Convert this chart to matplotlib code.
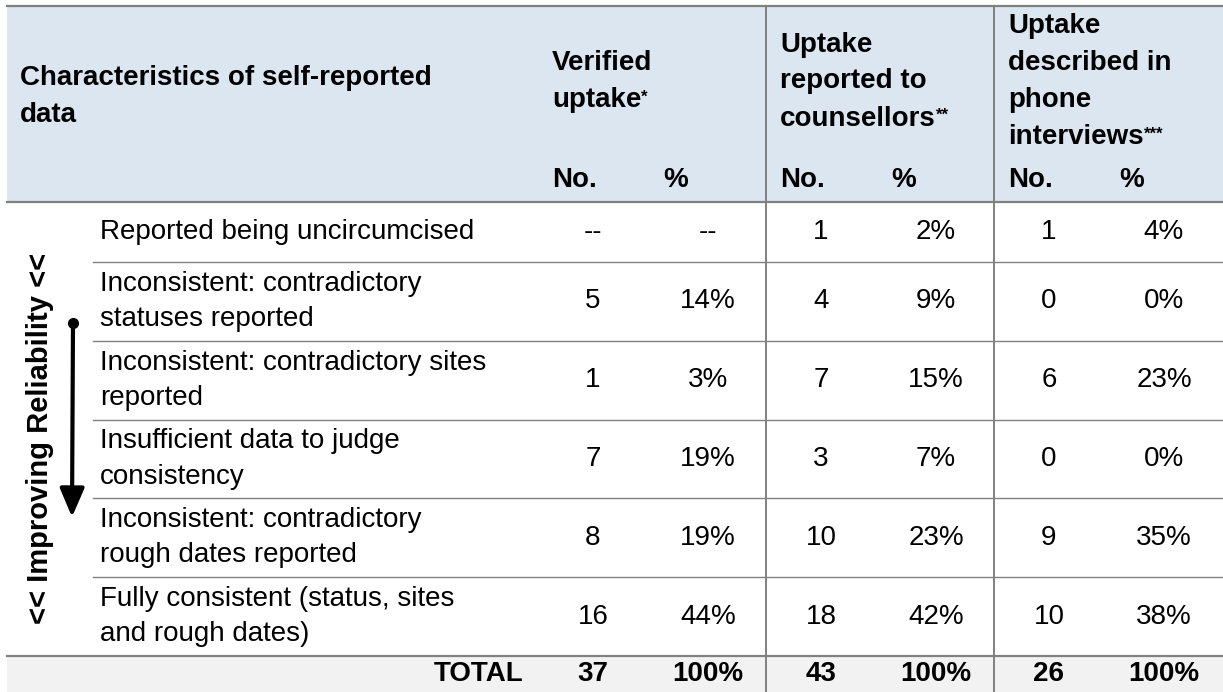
import matplotlib.pyplot as plt
from matplotlib.patches import Rectangle

plt.rcParams['font.family'] = ['Liberation Sans', 'DejaVu Sans']

# ---- table content ----
row_labels = [
    ["Reported being uncircumcised"],
    ["Inconsistent: contradictory", "statuses reported"],
    ["Inconsistent: contradictory sites", "reported"],
    ["Insufficient data to judge", "consistency"],
    ["Inconsistent: contradictory", "rough dates reported"],
    ["Fully consistent (status, sites", "and rough dates)"],
]
verified_no = [None, 5, 1, 7, 8, 16]
verified_pct = [None, 14, 3, 19, 19, 44]
counsellor_no = [1, 4, 7, 3, 10, 18]
counsellor_pct = [2, 9, 15, 7, 23, 42]
phone_no = [1, 0, 6, 0, 9, 10]
phone_pct = [4, 0, 23, 0, 35, 38]
total_no = [37, 43, 26]
total_pct = [100, 100, 100]

group_titles = [["Verified", "uptake"],
                ["Uptake", "reported to", "counsellors"],
                ["Uptake", "described in", "phone", "interviews"]]
group_marks = ["*", "**", "***"]
head_title = ["Characteristics of self-reported", "data"]
side_label = "<< Improving Reliability <<"

# ---- layout (pixels) ----
W, H = 1223, 692
LEFT = 7
TOP = 6
HEAD_BOT = 202
ROW1_BOT = 262
TOTAL_TOP = 656
group_x = [538, 766, 994]
FS = 20
GRID = '#808080'

row_edges = [HEAD_BOT, ROW1_BOT] + [ROW1_BOT + (TOTAL_TOP - ROW1_BOT) * k / 5 for k in range(1, 6)]

fig = plt.figure(figsize=(W / 100, H / 100), dpi=100)
ax = fig.add_axes([0, 0, 1, 1])
ax.set_xlim(0, W)
ax.set_ylim(H, 0)
ax.axis('off')

# backgrounds
ax.add_patch(Rectangle((LEFT, TOP), W - LEFT, HEAD_BOT - TOP, color='#DCE6F1', lw=0))
ax.add_patch(Rectangle((LEFT, TOTAL_TOP), W - LEFT, H - TOTAL_TOP, color='#F2F2F2', lw=0))

# rules
ax.plot([LEFT, W], [TOP, TOP], color=GRID, lw=1.6)
ax.plot([LEFT, W], [HEAD_BOT, HEAD_BOT], color=GRID, lw=1.6)
ax.plot([LEFT, W], [TOTAL_TOP, TOTAL_TOP], color=GRID, lw=1.6)
for y in row_edges[1:-1]:
    ax.plot([93, W], [y, y], color=GRID, lw=1.0)
for gx in group_x[1:]:
    ax.plot([gx, gx], [TOP, H], color=GRID, lw=1.4)

# header text
for i, line in enumerate(head_title):
    ax.text(20, 78 + i * 37, line, fontsize=FS, fontweight='bold', va='center', ha='left')

for gx, lines, mark in zip(group_x, group_titles, group_marks):
    n = len(lines)
    for i, line in enumerate(lines):
        y = 81.5 + (i - (n - 1) / 2) * 37
        t = ax.text(gx + 14, y, line, fontsize=FS, fontweight='bold', va='center', ha='left')
    ax.annotate(mark, xy=(1, 0.9), xycoords=t, fontsize=12, fontweight='bold',
                va='top', ha='left')
    ax.text(gx + 14, 180, "No.", fontsize=FS, fontweight='bold', va='center', ha='left')
    ax.text(gx + 125, 180, "%", fontsize=FS, fontweight='bold', va='center', ha='left')

# body rows
def fmt_no(v):
    return "--" if v is None else str(v)

def fmt_pct(v):
    return "--" if v is None else f"{v}%"

cols = [(verified_no, verified_pct), (counsellor_no, counsellor_pct), (phone_no, phone_pct)]
for r, lines in enumerate(row_labels):
    yc = (row_edges[r] + row_edges[r + 1]) / 2
    n = len(lines)
    for i, line in enumerate(lines):
        ax.text(100, yc + (i - (n - 1) / 2) * 35, line, fontsize=FS, va='center', ha='left')
    for gx, (nos, pcts) in zip(group_x, cols):
        ax.text(gx + 55, yc, fmt_no(nos[r]), fontsize=FS, va='center', ha='center')
        ax.text(gx + 170, yc, fmt_pct(pcts[r]), fontsize=FS, va='center', ha='center')

# total row
yt = (TOTAL_TOP + H) / 2
ax.text(524, yt, "TOTAL", fontsize=FS, fontweight='bold', va='center', ha='right')
for gx, tn, tp in zip(group_x, total_no, total_pct):
    ax.text(gx + 55, yt, str(tn), fontsize=FS, fontweight='bold', va='center', ha='center')
    ax.text(gx + 170, yt, f"{tp}%", fontsize=FS, fontweight='bold', va='center', ha='center')

# reliability side label and arrow
ax.text(40, 438, side_label, fontsize=21, fontweight='bold',
        rotation=90, va='center', ha='center')
ax.annotate('', xy=(72, 517), xytext=(73, 323),
            arrowprops=dict(arrowstyle='-|>,head_length=0.7,head_width=0.3', lw=3,
                            color='black', mutation_scale=25, shrinkA=0, shrinkB=0))
ax.plot([73], [323], 'o', color='black', markersize=7)

fig.savefig('out.png', dpi=100)
